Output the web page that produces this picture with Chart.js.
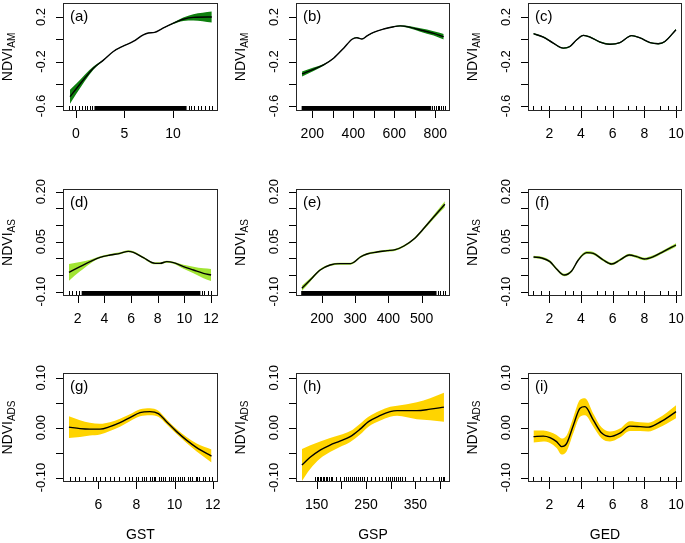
<!DOCTYPE html>
<html>
<head>
<meta charset="utf-8">
<script src="https://cdn.jsdelivr.net/npm/chart.js@4.4.0/dist/chart.umd.min.js"></script>
<style>
  body { margin: 0; background: #fff; }
  #wrap { position: relative; width: 685px; height: 543px; }
  #wrap canvas { position: absolute; left: 0; top: 0; }
</style>
</head>
<body>
<div id="wrap"></div>
<script>
// GAM partial effects of GST / GSP / GED on NDVI (AM, AS, ADS)
// values

// ---------- row 1 : NDVI_AM ----------
const gstA = [-0.62, 0.07, 1.79, 2.8, 3.85, 4.9, 5.9, 6.94, 7.45, 8.1, 8.8, 10.0, 11.06, 12.1, 14.0];
const fitA = [-0.516, -0.44, -0.26, -0.19, -0.11, -0.06, -0.02, 0.04, 0.056, 0.062, 0.092, 0.143, 0.18, 0.197, 0.2];
const seA  = [0.063, 0.045, 0.015, 0.006, 0.003, 0.002, 0.002, 0.002, 0.002, 0.002, 0.003, 0.006, 0.015, 0.028, 0.05];

const gspB = [150, 206, 255, 304, 353, 394, 418, 442, 467, 499, 548, 597, 629, 678, 727, 792, 841];
const fitB = [-0.312, -0.27, -0.23, -0.17, -0.08, 0.0, 0.014, 0.002, 0.03, 0.062, 0.092, 0.113, 0.12, 0.107, 0.083, 0.053, 0.023];
const seB  = [0.022, 0.015, 0.008, 0.004, 0.003, 0.003, 0.003, 0.003, 0.003, 0.003, 0.003, 0.004, 0.006, 0.01, 0.015, 0.02, 0.025];

const gedC = [1.0, 1.62, 2.25, 2.88, 3.3, 3.73, 4.15, 4.57, 5.2, 5.83, 6.46, 7.2, 7.73, 8.36, 8.88, 9.3, 10.0];
const fitC = [0.05, 0.02, -0.035, -0.08, -0.065, -0.005, 0.035, 0.02, -0.025, -0.045, -0.03, 0.033, 0.012, -0.03, -0.04, -0.02, 0.086];
const seC  = [0.007, 0.006, 0.006, 0.006, 0.006, 0.006, 0.006, 0.006, 0.006, 0.006, 0.006, 0.006, 0.006, 0.006, 0.006, 0.006, 0.008];

// ---------- row 2 : NDVI_AS ----------
const gstD = [1.35, 2.18, 2.93, 3.68, 4.43, 5.18, 5.8, 6.18, 6.93, 7.8, 8.18, 8.68, 9.18, 9.93, 10.68, 11.43, 12.0];
const fitD = [-0.042, -0.025, -0.01, 0.003, 0.01, 0.015, 0.021, 0.018, 0.002, -0.015, -0.015, -0.01, -0.013, -0.025, -0.035, -0.045, -0.05];
const seD  = [0.025, 0.014, 0.006, 0.003, 0.003, 0.003, 0.003, 0.003, 0.003, 0.003, 0.003, 0.003, 0.003, 0.006, 0.01, 0.015, 0.018];

const gspE = [140, 165, 195, 225, 255, 286, 299, 316, 336, 366, 396, 421, 447, 477, 507, 537, 570];
const fitE = [-0.09, -0.065, -0.035, -0.02, -0.016, -0.016, -0.01, 0.004, 0.013, 0.019, 0.023, 0.026, 0.037, 0.058, 0.09, 0.125, 0.162];
const seE  = [0.008, 0.005, 0.003, 0.003, 0.003, 0.003, 0.003, 0.003, 0.003, 0.003, 0.003, 0.003, 0.003, 0.003, 0.004, 0.006, 0.009];

const gedF = [1.0, 1.52, 2.04, 2.46, 2.95, 3.41, 3.83, 4.36, 4.78, 5.41, 5.94, 6.46, 7.05, 7.52, 8.0, 8.57, 9.2, 10.0];
const fitF = [0.004, 0.001, -0.01, -0.032, -0.05, -0.038, -0.005, 0.017, 0.015, -0.005, -0.017, -0.005, 0.01, 0.005, -0.002, 0.005, 0.02, 0.04];
const seF  = [0.004, 0.004, 0.004, 0.004, 0.004, 0.004, 0.004, 0.004, 0.004, 0.004, 0.004, 0.004, 0.004, 0.004, 0.004, 0.004, 0.004, 0.005];

// ---------- row 3 : NDVI_ADS ----------
const gstG = [4.46, 5.04, 5.56, 6.09, 6.61, 7.14, 7.66, 8.19, 8.71, 9.15, 9.58, 10.11, 10.63, 11.16, 11.94];
const fitG = [0.001, -0.002, -0.003, -0.003, 0.002, 0.01, 0.02, 0.03, 0.032, 0.028, 0.012, -0.008, -0.025, -0.04, -0.057];
const seG  = [0.022, 0.017, 0.013, 0.011, 0.009, 0.008, 0.007, 0.007, 0.007, 0.006, 0.005, 0.005, 0.006, 0.008, 0.013];

const gspH = [120, 136, 157, 177, 197, 218, 238, 255, 278, 299, 313, 333, 353, 380, 408];
const fitH = [-0.075, -0.06, -0.045, -0.035, -0.027, -0.018, -0.003, 0.012, 0.024, 0.032, 0.034, 0.034, 0.034, 0.037, 0.041];
const seH  = [0.032, 0.024, 0.017, 0.014, 0.012, 0.011, 0.011, 0.01, 0.01, 0.01, 0.01, 0.013, 0.017, 0.022, 0.029];

const gedI = [1.0, 1.62, 2.04, 2.46, 2.78, 3.09, 3.52, 3.94, 4.25, 4.78, 5.31, 5.83, 6.46, 7.09, 7.73, 8.25, 8.88, 9.41, 10.0];
const fitI = [-0.018, -0.017, -0.02, -0.028, -0.038, -0.032, 0.005, 0.039, 0.042, 0.015, -0.011, -0.018, -0.011, 0.003, 0.002, 0.001, 0.009, 0.019, 0.032];
const seI  = [0.012, 0.011, 0.011, 0.013, 0.016, 0.016, 0.016, 0.017, 0.017, 0.013, 0.011, 0.01, 0.009, 0.01, 0.009, 0.009, 0.01, 0.011, 0.013];

// ---------- rugs (observations along the x axis) ----------
const rugA = [-0.75, -0.4, -0.1, 0.3, 0.6, 0.9, 1.1, 1.4, 1.7, 11.6, 11.9, 12.2, 12.6, 12.9, 13.3, 13.7, 14.0];
const rugBandA = [1.9, 11.4];
const rugB = [785, 795, 803, 812, 820, 828, 836, 845];
const rugBandB = [148, 780];
const rugD = [1.35, 1.6, 1.85, 2.1, 11.3, 11.5, 11.75, 12.0];
const rugBandD = [2.3, 11.2];
const rugE = [548, 556, 563, 570];
const rugBandE = [138, 545];
const rugG = [4.5, 4.8, 5.0, 5.3, 5.7, 5.9, 6.1, 6.35, 6.6, 6.8, 7.1, 7.4, 7.6, 7.75, 8.0, 8.1, 8.3, 8.4, 8.5, 8.7, 8.8, 8.9, 9.0, 9.2, 9.3, 9.4, 9.5, 9.7, 9.8, 9.9, 10.0, 10.2, 10.3, 10.4, 10.5, 10.7, 10.8, 10.9, 11.1, 11.2, 11.3, 11.5, 11.6, 11.8, 11.95];
const rugH = [146, 150, 153, 156, 159, 162, 165, 168, 171, 175, 178, 182, 190, 198, 205, 210, 214, 218, 221, 225, 229, 233, 237, 241, 245, 252, 260, 268, 276, 283, 290, 294, 298, 302, 306, 310, 314, 318, 322, 330, 345, 360, 372, 385, 397, 402, 406, 409];
const rugGED = [1, 1.5, 2, 3, 3.5, 4, 5, 5.5, 6, 7, 7.5, 8, 9, 9.5, 10];

// ---------- axis ticks ----------
const yTicksAM  = [0.2, 0, -0.2, -0.4, -0.6];
const yLabelsAM = ['0.2', '', '-0.2', '', '-0.6'];
const yTicksAS  = [0.2, 0.15, 0.1, 0.05, 0, -0.05, -0.1];
const yLabelsAS = ['0.20', '', '', '0.05', '', '', '-0.10'];
const yTicksADS  = [0.1, 0.05, 0, -0.05, -0.1];
const yLabelsADS = ['0.10', '', '0.00', '', '-0.10'];

const xTicksA = [0, 5, 10];
const xLabelsA = ['0', '5', '10'];
const xTicksB = [200, 300, 400, 500, 600, 700, 800];
const xLabelsB = ['200', '', '400', '', '600', '', '800'];
const xTicksGED = [2, 4, 6, 8, 10];
const xLabelsGED = ['2', '4', '6', '8', '10'];
const xTicksD = [2, 4, 6, 8, 10, 12];
const xLabelsD = ['2', '4', '6', '8', '10', '12'];
const xTicksE = [200, 300, 400, 500];
const xLabelsE = ['200', '300', '400', '500'];
const xTicksG = [6, 8, 10, 12];
const xLabelsG = ['6', '8', '10', '12'];
const xTicksH = [150, 200, 250, 300, 350, 400];
const xLabelsH = ['150', '', '250', '', '350', ''];

const xTitles = ['GST', 'GSP', 'GED'];

// =============== LAYOUT ===============
const W = 685, H = 543;
const FONT = '"Liberation Sans", Arial, sans-serif';
const colBox = [[63, 218], [296, 450], [528, 682]];
const rowBox = [[3, 111], [189, 296], [373, 482]];

const rows = [
  { sub: 'AM',  yMin: -0.645, yMax: 0.326, ticks: yTicksAM,  labels: yLabelsAM,  band: '#0e800e' },
  { sub: 'AS',  yMin: -0.113, yMax: 0.208, ticks: yTicksAS,  labels: yLabelsAS,  band: '#a2e534' },
  { sub: 'ADS', yMin: -0.109, yMax: 0.1095, ticks: yTicksADS, labels: yLabelsADS, band: '#ffd400' }
];

const panels = [
  { tag: '(a)', row: 0, col: 0, x: gstA, fit: fitA, se: seA, xMin: -1.34, xMax: 14.64, xt: xTicksA, xl: xLabelsA, rug: rugA, rugBand: rugBandA },
  { tag: '(b)', row: 0, col: 1, x: gspB, fit: fitB, se: seB, xMin: 120.5, xMax: 871.7, xt: xTicksB, xl: xLabelsB, rug: rugB, rugBand: rugBandB },
  { tag: '(c)', row: 0, col: 2, x: gedC, fit: fitC, se: seC, xMin: 0.654, xMax: 10.38, xt: xTicksGED, xl: xLabelsGED, rug: rugGED },
  { tag: '(d)', row: 1, col: 0, x: gstD, fit: fitD, se: seD, xMin: 0.9, xMax: 12.52, xt: xTicksD, xl: xLabelsD, rug: rugD, rugBand: rugBandD },
  { tag: '(e)', row: 1, col: 1, x: gspE, fit: fitE, se: seE, xMin: 122.4, xMax: 585.5, xt: xTicksE, xl: xLabelsE, rug: rugE, rugBand: rugBandE },
  { tag: '(f)', row: 1, col: 2, x: gedF, fit: fitF, se: seF, xMin: 0.654, xMax: 10.38, xt: xTicksGED, xl: xLabelsGED, rug: rugGED },
  { tag: '(g)', row: 2, col: 0, x: gstG, fit: fitG, se: seG, xMin: 4.15, xMax: 12.28, xt: xTicksG, xl: xLabelsG, rug: rugG },
  { tag: '(h)', row: 2, col: 1, x: gspH, fit: fitH, se: seH, xMin: 108, xMax: 420.3, xt: xTicksH, xl: xLabelsH, rug: rugH },
  { tag: '(i)', row: 2, col: 2, x: gedI, fit: fitI, se: seI, xMin: 0.654, xMax: 10.38, xt: xTicksGED, xl: xLabelsGED, rug: rugGED }
];

// âœ… R-style box, ticks, rug and labels drawn through the chart's scales
const rAxes = {
  id: 'rAxes',
  afterDatasetsDraw(chart, args, p) {
    const ctx = chart.ctx, xs = chart.scales.x, ys = chart.scales.y, a = chart.chartArea;
    const L = Math.round(a.left), R = Math.round(a.right), T = Math.round(a.top), B = Math.round(a.bottom);
    ctx.save();
    ctx.strokeStyle = '#000';
    ctx.fillStyle = '#000';
    ctx.lineWidth = 1;

    // rug
    ctx.beginPath();
    p.rug.forEach(v => {
      const px = Math.round(xs.getPixelForValue(v)) + 0.5;
      ctx.moveTo(px, B); ctx.lineTo(px, B - 5);
    });
    ctx.stroke();
    if (p.rugBand) {
      const x0 = xs.getPixelForValue(p.rugBand[0]), x1 = xs.getPixelForValue(p.rugBand[1]);
      ctx.fillRect(x0, B - 5, x1 - x0, 5);
    }

    // box
    ctx.strokeStyle = '#262626';
    ctx.strokeRect(L + 0.5, T + 0.5, R - L - 1, B - T - 1);

    // y ticks + rotated labels
    ctx.strokeStyle = '#000';
    ctx.beginPath();
    p.yt.forEach(v => {
      const py = Math.round(ys.getPixelForValue(v)) + 0.5;
      ctx.moveTo(L, py); ctx.lineTo(L - 7, py);
    });
    ctx.stroke();
    ctx.font = '13px ' + FONT;
    ctx.textAlign = 'center';
    ctx.textBaseline = 'middle';
    p.yt.forEach((v, i) => {
      if (!p.yl[i]) return;
      const py = ys.getPixelForValue(v);
      ctx.save();
      ctx.translate(L - 22, py);
      ctx.rotate(-Math.PI / 2);
      ctx.fillText(p.yl[i], 0, 0);
      ctx.restore();
    });

    // x ticks + labels
    ctx.beginPath();
    p.xt.forEach(v => {
      const px = Math.round(xs.getPixelForValue(v)) + 0.5;
      ctx.moveTo(px, B); ctx.lineTo(px, B + 7);
    });
    ctx.stroke();
    ctx.font = '14px ' + FONT;
    p.xt.forEach((v, i) => {
      if (p.xl[i]) ctx.fillText(p.xl[i], xs.getPixelForValue(v), B + 23);
    });

    // panel tag
    ctx.textAlign = 'left';
    ctx.font = '15px ' + FONT;
    ctx.fillText(p.tag, L + 7, T + 14);

    // y title NDVI with subscript
    ctx.save();
    ctx.translate(L - 51, (T + B) / 2);
    ctx.rotate(-Math.PI / 2);
    ctx.textBaseline = 'alphabetic';
    ctx.font = '14px ' + FONT;
    const wN = ctx.measureText('NDVI').width;
    ctx.font = '10px ' + FONT;
    const wS = ctx.measureText(p.sub).width;
    const x0 = -(wN + wS) / 2;
    ctx.font = '14px ' + FONT;
    ctx.fillText('NDVI', x0, 0);
    ctx.font = '10px ' + FONT;
    ctx.fillText(p.sub, x0 + wN, 3);
    ctx.restore();

    // x title (bottom row only)
    if (p.xTitle) {
      ctx.textAlign = 'center';
      ctx.font = '14px ' + FONT;
      ctx.fillText(p.xTitle, (L + R) / 2, 535);
    }
    ctx.restore();
  }
};

function buildPanel(p) {
  const row = rows[p.row];
  const [bl, br] = colBox[p.col];
  const [bt, bb] = rowBox[p.row];
  const canvas = document.createElement('canvas');
  canvas.width = W; canvas.height = H;
  document.getElementById('wrap').appendChild(canvas);

  const upper = p.x.map((v, i) => ({ x: v, y: p.fit[i] + p.se[i] }));
  const lower = p.x.map((v, i) => ({ x: v, y: p.fit[i] - p.se[i] }));
  const fit = p.x.map((v, i) => ({ x: v, y: p.fit[i] }));

  new Chart(canvas.getContext('2d'), {
    type: 'line',
    data: {
      datasets: [
        // band: upper edge filled down to the lower edge; drawn underneath the fit
        { data: upper, order: 2, borderWidth: 0, borderColor: row.band, backgroundColor: row.band, fill: '+1', pointRadius: 0, cubicInterpolationMode: 'monotone' },
        { data: lower, order: 3, borderWidth: 0, borderColor: row.band, backgroundColor: row.band, fill: false, pointRadius: 0, cubicInterpolationMode: 'monotone' },
        { data: fit, order: 0, borderWidth: 1.4, borderColor: '#000', fill: false, pointRadius: 0, cubicInterpolationMode: 'monotone' }
      ]
    },
    options: {
      responsive: false,
      animation: false,
      devicePixelRatio: 1,
      layout: { padding: { left: bl, right: W - br, top: bt, bottom: H - bb } },
      scales: {
        x: { type: 'linear', min: p.xMin, max: p.xMax, display: false },
        y: { type: 'linear', min: row.yMin, max: row.yMax, display: false }
      },
      plugins: {
        legend: { display: false },
        tooltip: { enabled: false },
        rAxes: {
          tag: p.tag, sub: row.sub, yt: row.ticks, yl: row.labels,
          xt: p.xt, xl: p.xl, rug: p.rug, rugBand: p.rugBand,
          xTitle: p.row === 2 ? xTitles[p.col] : null
        }
      }
    },
    plugins: [rAxes]
  });
}

panels.forEach(buildPanel);
</script>
</body>
</html>
